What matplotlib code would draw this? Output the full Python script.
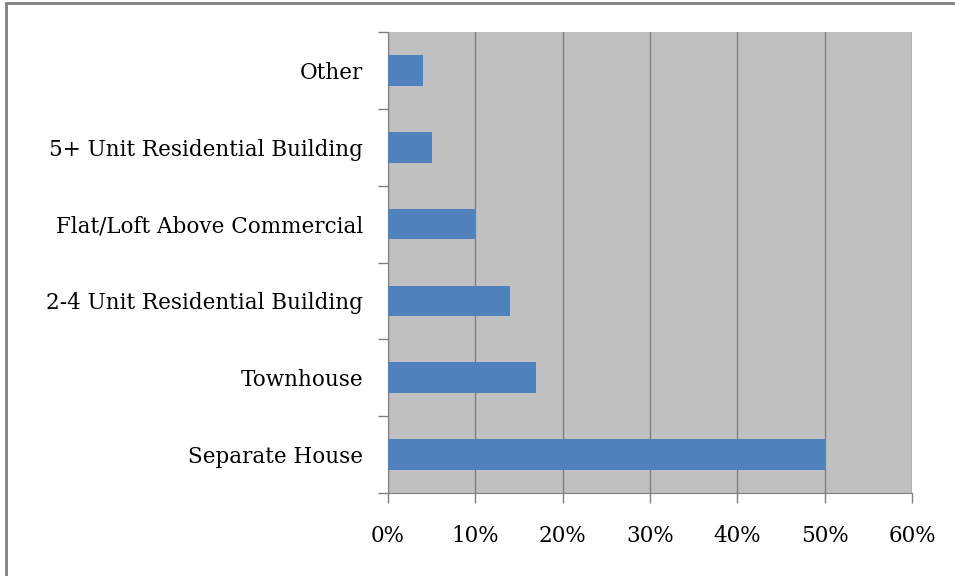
import matplotlib
matplotlib.use('Agg')
import matplotlib.pyplot as plt
from matplotlib.patches import Rectangle
import numpy as np

categories = ['Separate House', 'Townhouse', '2-4 Unit Residential Building',
              'Flat/Loft Above Commercial', '5+ Unit Residential Building', 'Other']
shares = [50, 17, 14, 10, 5, 4]
xticks = [0, 10, 20, 30, 40, 50, 60]

plt.rcParams['font.family'] = ['DejaVu Serif']

fig = plt.figure(figsize=(9.55, 5.76), dpi=100)
ax = fig.add_axes([388 / 955, 83 / 576, 524 / 955, 461 / 576])

y = np.arange(len(categories))
ax.barh(y, shares, height=0.4, color='#4f81bd', zorder=3)

ax.set_xlim(0, 60)
ax.set_ylim(-0.5, len(categories) - 0.5)
ax.set_facecolor('#c0c0c0')
ax.set_xticks(xticks)
ax.set_xticklabels([f'{v}%' for v in xticks], fontsize=15.5)
ax.set_yticks(y)
ax.set_yticklabels(categories, fontsize=15.5)
ax.set_yticks(np.arange(-0.5, len(categories), 1), minor=True)
ax.tick_params(axis='y', which='major', length=0, pad=18)
ax.tick_params(axis='y', which='minor', length=7, color='#808080', width=1)
ax.tick_params(axis='x', length=7, color='#808080', width=1, pad=16)
ax.grid(axis='x', color='#808080', linewidth=1, zorder=1)

for side in ['top', 'right']:
    ax.spines[side].set_visible(False)
ax.spines['left'].set_color('#808080')
ax.spines['bottom'].set_color('#808080')

# outer chart frame (cut off at right and bottom)
fig.patches.append(Rectangle((6 / 955, -0.1), 1.1, 1 - 3 / 576 + 0.1,
                             transform=fig.transFigure, fill=False,
                             edgecolor='#808080', linewidth=2))

fig.savefig('out.png', dpi=100)
